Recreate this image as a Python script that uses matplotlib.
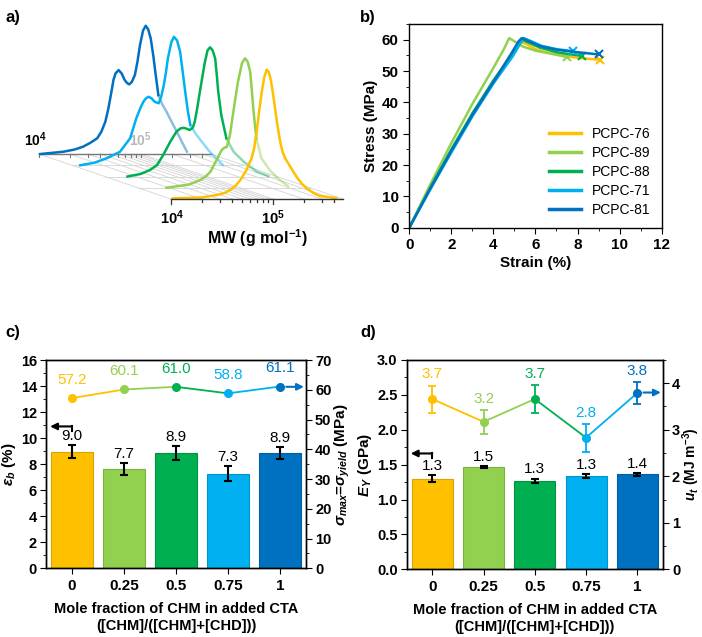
import numpy as np
import matplotlib.pyplot as plt
from matplotlib.ticker import MultipleLocator

plt.rcParams['font.family'] = 'Liberation Sans'
plt.rcParams['font.weight'] = 'bold'
plt.rcParams['axes.labelweight'] = 'bold'
plt.rcParams['mathtext.fontset'] = 'custom'
plt.rcParams['mathtext.rm'] = 'Liberation Sans'
plt.rcParams['mathtext.it'] = 'Liberation Sans:italic'
plt.rcParams['mathtext.bf'] = 'Liberation Sans:italic:bold'
plt.rcParams['mathtext.sf'] = 'Liberation Sans:bold'
plt.rcParams['axes.linewidth'] = 1.0

# ---------------- data ----------------
samples = ['PCPC-76', 'PCPC-89', 'PCPC-88', 'PCPC-71', 'PCPC-81']
COLORS = ['#FFC000', '#92D050', '#00B050', '#00B0F0', '#0070C0']

# a) GPC traces: log10(MW) and normalised intensity
gpc_lm_76 = [4.02, 4.30, 4.45, 4.53, 4.58, 4.63, 4.68, 4.74, 4.79, 4.815, 4.84, 4.865, 4.89, 4.915, 4.938,
             4.96, 4.98, 5.0, 5.02, 5.045, 5.07, 5.095, 5.12, 5.17, 5.23, 5.28, 5.33, 5.40, 5.46, 5.62]
gpc_i_76 = [0.005, 0.012, 0.031, 0.048, 0.069, 0.10, 0.146, 0.223, 0.313, 0.39, 0.518, 0.68, 0.825, 0.94, 0.995,
            0.975, 0.91, 0.81, 0.698, 0.56, 0.441, 0.36, 0.313, 0.248, 0.172, 0.12, 0.082, 0.045, 0.023, 0.008]
gpc_lm_89 = [4.28, 4.50, 4.61, 4.66, 4.71, 4.77, 4.82, 4.85, 4.87, 4.90, 4.93, 4.955, 4.98, 5.02, 5.05,
             5.075, 5.10, 5.115, 5.13, 5.16, 5.21, 5.29, 5.39, 5.47]
gpc_i_89 = [0.0, 0.025, 0.06, 0.085, 0.123, 0.213, 0.29, 0.31, 0.313, 0.40, 0.56, 0.69, 0.815, 0.96, 0.996,
            0.97, 0.892, 0.76, 0.61, 0.38, 0.227, 0.137, 0.06, 0.013]
gpc_lm_88 = [4.22, 4.35, 4.44, 4.51, 4.57, 4.64, 4.70, 4.74, 4.77, 4.80, 4.83, 4.86, 4.88, 4.905, 4.93, 4.955,
             4.98, 5.005, 5.03, 5.055, 5.08, 5.095, 5.11, 5.14, 5.19, 5.26, 5.36, 5.49, 5.60]
gpc_i_88 = [0.0, 0.02, 0.05, 0.088, 0.165, 0.268, 0.345, 0.37, 0.375, 0.368, 0.358, 0.375, 0.422, 0.53, 0.652,
            0.77, 0.883, 0.97, 0.994, 0.97, 0.909, 0.79, 0.652, 0.473, 0.294, 0.191, 0.114, 0.037, 0.004]
gpc_lm_71 = [4.08, 4.22, 4.34, 4.47, 4.57, 4.63, 4.67, 4.70, 4.725, 4.75, 4.78, 4.81, 4.85, 4.875, 4.90, 4.92,
             4.94, 4.975, 5.0, 5.03, 5.06, 5.085, 5.11, 5.135, 5.16, 5.21, 5.26, 5.35, 5.48]
gpc_i_71 = [0.0, 0.02, 0.054, 0.104, 0.208, 0.361, 0.44, 0.489, 0.515, 0.527, 0.515, 0.489, 0.477, 0.53, 0.617, 0.71,
            0.823, 0.95, 0.988, 0.96, 0.873, 0.72, 0.565, 0.42, 0.31, 0.245, 0.194, 0.104, 0.002]
gpc_lm_81 = [4.01, 4.24, 4.35, 4.43, 4.50, 4.57, 4.61, 4.65, 4.68, 4.71, 4.73, 4.75, 4.78, 4.81, 4.84, 4.865,
             4.885, 4.91, 4.94, 4.965, 4.99, 5.02, 5.046, 5.07, 5.095, 5.12, 5.14, 5.17, 5.21, 5.25, 5.35, 5.45]
gpc_i_81 = [0.0, 0.018, 0.035, 0.056, 0.085, 0.121, 0.17, 0.248, 0.35, 0.479, 0.57, 0.62, 0.646, 0.62, 0.569, 0.545,
            0.536, 0.555, 0.608, 0.71, 0.838, 0.95, 0.987, 0.96, 0.89, 0.76, 0.633, 0.454, 0.38, 0.325, 0.172, 0.018]

# b) stress-strain
strain_76 = [0, 1, 2, 3, 4, 4.7, 5.1, 5.3, 5.6, 6.0, 6.5, 7.0, 8.0, 9.07]
stress_76 = [0, 12.5, 24.5, 36, 46.5, 54, 58, 59.3, 58.5, 57, 56, 55.2, 54.2, 53.6]
strain_89 = [0, 1, 2, 3, 4, 4.5, 4.75, 5.0, 5.4, 6.0, 7.0, 7.48]
stress_89 = [0, 13.8, 27, 39.5, 51, 57, 60.5, 59.5, 57.8, 56.5, 55.2, 54.5]
strain_88 = [0, 1, 2, 3, 4, 4.8, 5.2, 5.35, 5.7, 6.2, 7.0, 8.2]
stress_88 = [0, 12.8, 25, 36.5, 47, 54.5, 59, 60, 59, 57.5, 56, 54.8]
strain_71 = [0, 1, 2, 3, 4, 4.9, 5.3, 5.45, 5.8, 6.3, 7.0, 7.8]
stress_71 = [0, 12.2, 24, 35.5, 46, 54.5, 59, 60.5, 59.5, 58, 57, 56.3]
strain_81 = [0, 1, 2, 3, 4, 4.8, 5.2, 5.35, 5.7, 6.2, 7.0, 8.0, 9.0]
stress_81 = [0, 12.5, 24.5, 36, 46.5, 55, 59.5, 60.5, 59.5, 58, 56.8, 56, 55.3]

# c, d) bars + lines
fractions = ['0', '0.25', '0.5', '0.75', '1']
eps_b = [8.96, 7.65, 8.83, 7.25, 8.83]
eps_b_err = [0.51, 0.47, 0.53, 0.58, 0.47]
eps_b_lab = ['9.0', '7.7', '8.9', '7.3', '8.9']
sigma_max = [57.2, 60.1, 61.0, 58.8, 61.1]
sigma_lab = ['57.2', '60.1', '61.0', '58.8', '61.1']

E_young = [1.30, 1.46, 1.27, 1.34, 1.36]
E_young_err = [0.05, 0.015, 0.03, 0.025, 0.025]
E_young_lab = ['1.3', '1.5', '1.3', '1.3', '1.4']
u_t = [3.66, 3.17, 3.66, 2.83, 3.79]
u_t_err = [0.29, 0.26, 0.30, 0.30, 0.23]
u_t_lab = ['3.7', '3.2', '3.7', '2.8', '3.8']

fig = plt.figure(figsize=(7.02, 6.37), dpi=100)

# ==============================
# a) pseudo-3D GPC waterfall
# ==============================
ax = fig.add_axes([0, 0.5, 0.5, 0.5])
ax.set_xlim(2.3235, 5.7647)
ax.set_ylim(-0.919, 1.531)
ax.axis('off')

DX, DY = -0.3235, 0.0865   # shift per trace going backwards
x_end = 5.686
grid_c = '#d4d4d4'
tick_pos = np.log10([1e4, 2e4, 3e4, 4e4, 5e4, 6e4, 7e4, 8e4, 9e4, 1e5, 2e5, 3e5, 4e5])

# floor: diagonals + trace baselines
for t in list(tick_pos) + [x_end]:
    ax.plot([t, t + 4 * DX], [0, 4 * DY], color=grid_c, lw=0.6, zorder=1)
for k in range(1, 4):
    ax.plot([4 + k * DX, x_end + k * DX], [k * DY, k * DY], color=grid_c, lw=0.6, zorder=1)

# back axis
ax.plot([4 + 4 * DX, x_end + 4 * DX], [4 * DY, 4 * DY], color='#777777', lw=1.0, zorder=2)
for t in tick_pos:
    ax.plot([t + 4 * DX] * 2, [4 * DY, 4 * DY - 0.022], color='#777777', lw=0.8, zorder=2)
ax.text(4 + 4 * DX - 0.03, 4 * DY + 0.04, r'$\mathsf{10^4}$', ha='center', va='bottom', fontsize=10)
ax.text(5 + 4 * DX - 0.01, 4 * DY + 0.04, r'$\mathsf{10^5}$', ha='center', va='bottom', fontsize=10,
        color='#b8b8b8')

traces = [(gpc_lm_76, gpc_i_76), (gpc_lm_89, gpc_i_89), (gpc_lm_88, gpc_i_88),
          (gpc_lm_71, gpc_i_71), (gpc_lm_81, gpc_i_81)]
cut = 5.16
for k in range(4, -1, -1):
    lm, inten = np.array(traces[k][0]), np.array(traces[k][1])
    x = lm + k * DX
    y = inten + k * DY
    if k == 0:
        ax.plot(x, y, color=COLORS[k], lw=1.8, zorder=5, solid_joinstyle='round')
    else:
        i = int(np.argmax(lm >= cut))
        ax.plot(x[:i + 1], y[:i + 1], color=COLORS[k], lw=1.8, zorder=5 - k * 0.1,
                solid_joinstyle='round')
        ax.plot(x[i:], y[i:], color=COLORS[k], lw=1.8, alpha=0.45, zorder=4,
                solid_joinstyle='round')

# front axis
ax.plot([4, x_end], [0, 0], color='#333333', lw=1.0, zorder=6)
for t in tick_pos:
    major = abs(t - round(t)) < 1e-6
    ax.plot([t, t], [0, -0.04 if major else -0.025], color='#333333', lw=0.9, zorder=6)
ax.text(4.01, -0.07, r'$\mathsf{10^4}$', ha='center', va='top', fontsize=10.5)
ax.text(5.0, -0.07, r'$\mathsf{10^5}$', ha='center', va='top', fontsize=10.5)
ax.text(4.843, -0.30, r'MW (g mol$^{\mathsf{-1}}$)', ha='center', va='center', fontsize=11.5)

# ==============================
# b) stress-strain curves
# ==============================
axb = fig.add_axes([0.583, 0.6425, 0.3595, 0.3198])
curves = [(strain_76, stress_76), (strain_89, stress_89), (strain_88, stress_88),
          (strain_71, stress_71), (strain_81, stress_81)]
for (s, st), c, name in zip(curves, COLORS, samples):
    axb.plot(s, st, color=c, lw=1.8, label=name)
    axb.plot(s[-1], st[-1], 'x', color=c, ms=6, mew=1.5)
axb.set_xlim(0, 12)
axb.set_ylim(0, 65)
axb.xaxis.set_major_locator(MultipleLocator(2))
axb.xaxis.set_minor_locator(MultipleLocator(1))
axb.yaxis.set_major_locator(MultipleLocator(10))
axb.yaxis.set_minor_locator(MultipleLocator(5))
axb.tick_params(which='both', direction='out', labelsize=11)
axb.tick_params(which='major', length=4)
axb.tick_params(which='minor', length=2)
axb.set_xlabel('Strain (%)', fontsize=11, labelpad=3)
axb.set_ylabel('Stress (MPa)', fontsize=11, labelpad=3)
leg = axb.legend(loc='lower right', frameon=False, handlelength=2.3,
                 borderaxespad=0.4, labelspacing=0.35, prop={'weight': 'normal', 'size': 10})
for h in leg.get_lines():
    h.set_linewidth(2.5)


# ==============================
# c, d) bars + twin line
# ==============================
def bar_panel(rect, vals, errs, labs, lvals, lerrs, llabs, ylim_l, ylim_r,
              maj_l, min_l, maj_r, min_r, ylab_l, ylab_r, arrow_l, arrow_r, lab_off, rsize, rpad):
    ax1 = fig.add_axes(rect)
    ax2 = ax1.twinx()
    xs = np.arange(len(vals))
    edge = ['#d9a300', '#7cb33f', '#00923f', '#0095cc', '#005ea3']
    ax1.bar(xs, vals, width=0.8, color=COLORS, edgecolor=edge, lw=0.8, zorder=2)
    ax1.errorbar(xs, vals, yerr=errs, fmt='none', ecolor='black', elinewidth=1.5,
                 capsize=3, capthick=1.5, zorder=3)
    for x, v, e, l in zip(xs, vals, errs, labs):
        ax1.annotate(l, (x, v + e), xytext=(0, 1.5), textcoords='offset points',
                     ha='center', va='bottom', fontsize=11, fontweight='normal')
    for i in range(len(lvals) - 1):
        ax2.plot(xs[i:i + 2], lvals[i:i + 2], color=COLORS[i], lw=1.3, zorder=3)
    for i, (x, v) in enumerate(zip(xs, lvals)):
        if lerrs is not None:
            ax2.errorbar(x, v, yerr=lerrs[i], fmt='none', ecolor=COLORS[i], elinewidth=1.3,
                         capsize=3, capthick=1.3, zorder=3)
        ax2.plot(x, v, 'o', color=COLORS[i], ms=5.5, zorder=4)
        top = v + (lerrs[i] if lerrs is not None else 0)
        ax2.annotate(llabs[i], (x, top), xytext=(0, lab_off), textcoords='offset points',
                     ha='center', va='bottom', fontsize=11, fontweight='normal', color=COLORS[i])
    ax1.set_xlim(-0.5, 4.5)
    ax1.set_ylim(*ylim_l)
    ax2.set_ylim(*ylim_r)
    ax1.set_xticks(xs)
    ax1.set_xticklabels(fractions)
    ax1.yaxis.set_major_locator(MultipleLocator(maj_l))
    ax1.yaxis.set_minor_locator(MultipleLocator(min_l))
    ax2.yaxis.set_major_locator(MultipleLocator(maj_r))
    ax2.yaxis.set_minor_locator(MultipleLocator(min_r))
    for a in (ax1, ax2):
        a.tick_params(which='both', direction='out', labelsize=10.5, pad=2.5)
        a.tick_params(which='major', length=4)
        a.tick_params(which='minor', length=2)
    ax1.tick_params(axis='x', labelsize=11, pad=4)
    ax1.set_xlabel('Mole fraction of CHM in added CTA\n([CHM]/([CHM]+[CHD]))', fontsize=10.5,
                   labelpad=6, linespacing=1.3)
    ax1.set_ylabel(ylab_l, fontsize=11, labelpad=2)
    ax2.set_ylabel(ylab_r, fontsize=rsize, labelpad=rpad)
    # direction arrows
    ya, hook = arrow_l
    ax1.annotate('', xy=(-0.42, ya), xytext=(0.0, ya),
                 arrowprops=dict(arrowstyle='-|>', color='black', lw=1.5, mutation_scale=10,
                                 shrinkA=0, shrinkB=0))
    ax1.plot([0.0, 0.0], [ya, ya - hook], color='black', lw=1.5)
    ax2.annotate('', xy=(4.46, arrow_r), xytext=(4.12, arrow_r),
                 arrowprops=dict(arrowstyle='-|>', color=COLORS[4], lw=1.5, mutation_scale=10,
                                 shrinkA=0, shrinkB=0))
    return ax1, ax2


bar_panel([0.0655, 0.1078, 0.3704, 0.327], eps_b, eps_b_err, eps_b_lab,
          sigma_max, None, sigma_lab, (0, 16), (0, 70), 2, 1, 10, 5,
          r'$\varepsilon_b$ (%)', r'$\sigma_{max}$=$\sigma_{yield}$ (MPa)',
          (10.9, 0.35), 61.0, 8, 11, 1)
bar_panel([0.5793, 0.1063, 0.365, 0.3286], E_young, E_young_err, E_young_lab,
          u_t, u_t_err, u_t_lab, (0, 3.0), (0, 4.5), 0.5, 0.25, 1, 0.5,
          r'$\mathbf{E_Y}$ (GPa)', r'$\mathbf{u_t}$ (MJ m$^{\mathsf{-3}}$)',
          (1.66, 0.07), 3.80, 3, 10, 0)

for lab, x, y in [('a)', 0.008, 0.985), ('b)', 0.513, 0.985), ('c)', 0.008, 0.49), ('d)', 0.513, 0.49)]:
    fig.text(x, y, lab, fontsize=12, fontweight='bold', ha='left', va='top')

fig.savefig('out.png', dpi=100)
